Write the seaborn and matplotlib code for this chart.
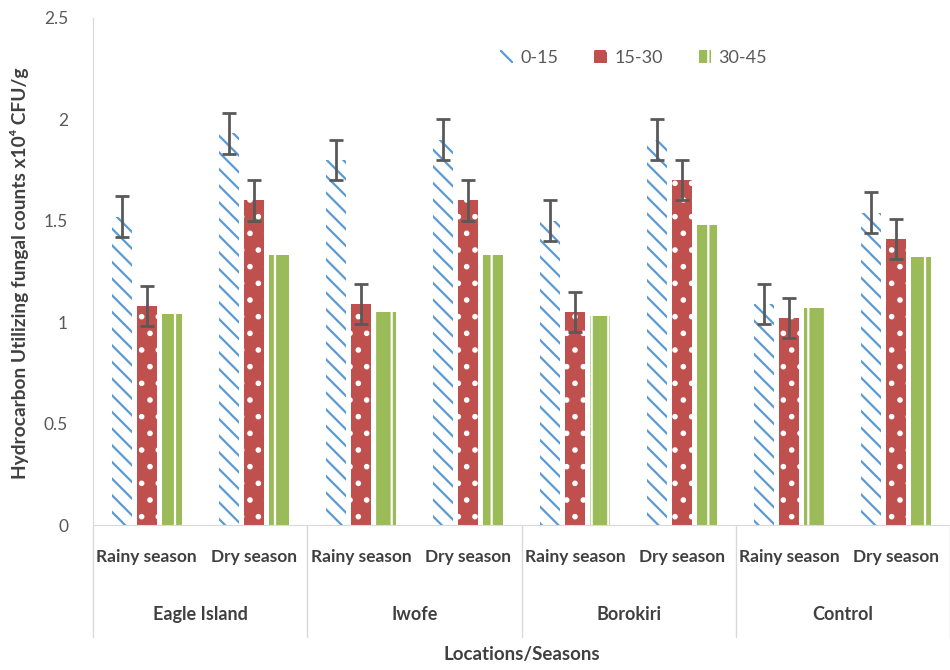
import numpy as np
import pandas as pd
import matplotlib
matplotlib.use("Agg")
import matplotlib.pyplot as plt
import seaborn as sns
from matplotlib.patches import Patch

# ---------------------------------------------------------
# data
# ---------------------------------------------------------
locations = ["Eagle Island", "Iwofe", "Borokiri", "Control"]
seasons = ["Rainy season", "Dry season"]
depths = ["0-15", "15-30", "30-45"]

vals_0_15 = [1.52, 1.93, 1.80, 1.90, 1.50, 1.90, 1.09, 1.54]
vals_15_30 = [1.08, 1.60, 1.09, 1.60, 1.05, 1.70, 1.02, 1.41]
vals_30_45 = [1.04, 1.33, 1.05, 1.33, 1.03, 1.48, 1.07, 1.32]

err_0_15 = [0.10, 0.10, 0.10, 0.10, 0.10, 0.10, 0.10, 0.10]
err_15_30 = [0.10, 0.10, 0.10, 0.10, 0.10, 0.10, 0.10, 0.10]

y_ticks = [0, 0.5, 1, 1.5, 2, 2.5]

# ---------------------------------------------------------
# table for seaborn
# ---------------------------------------------------------
keys = [f"{loc}|{s}" for loc in locations for s in seasons]
rows = []
for depth, vals in zip(depths, [vals_0_15, vals_15_30, vals_30_45]):
    for k, v in zip(keys, vals):
        rows.append({"cat": k, "depth": depth, "value": v})
df = pd.DataFrame(rows)

sns.set_style("white")
plt.rcParams["font.family"] = ["Lato", "DejaVu Sans"]
plt.rcParams["hatch.linewidth"] = 1.6

fig = plt.figure(figsize=(9.5, 6.7), dpi=100)
ax = fig.add_axes([0.098, 0.2164, 0.902, 0.757])

sns.barplot(data=df, x="cat", y="value", hue="depth", order=keys,
            hue_order=depths, width=0.7, gap=0.2, errorbar=None,
            legend=False, ax=ax)

styles = [
    dict(facecolor="white", edgecolor="#5B9BD5", hatch="\\\\"),
    dict(facecolor="#C0504D", edgecolor="white", hatch="."),
    dict(facecolor="#9BBB59", edgecolor="white", hatch="|"),
]
for cont, st in zip(ax.containers, styles):
    for p in cont.patches:
        p.set_facecolor(st["facecolor"])
        p.set_edgecolor(st["edgecolor"])
        p.set_hatch(st["hatch"])
        p.set_linewidth(0)

# error bars for the first two series
for cont, errs in zip(ax.containers[:2], [err_0_15, err_15_30]):
    xs = [p.get_x() + p.get_width() / 2 for p in cont.patches]
    hs = [p.get_height() for p in cont.patches]
    ax.errorbar(xs, hs, yerr=errs, fmt="none", ecolor="#595959",
                elinewidth=2, capsize=5, capthick=2, zorder=5)

ax.set_ylim(0, 2.5)
ax.set_xlim(-0.5, len(keys) - 0.5)
ax.set_yticks(y_ticks)
ax.set_yticklabels([f"{t:g}" for t in y_ticks], color="#595959", fontsize=12.5)
ax.tick_params(axis="y", length=0, pad=18)

ax.set_xticks(range(len(keys)))
ax.set_xticklabels([k.split("|")[1] for k in keys], color="#404040",
                   fontsize=12.5, fontweight="bold")
ax.tick_params(axis="x", length=0, pad=17)

for side in ["top", "right"]:
    ax.spines[side].set_visible(False)
ax.spines["left"].set_color("#D9D9D9")
ax.spines["bottom"].set_color("#D9D9D9")

ax.set_xlabel("")
ax.set_ylabel("")

# second level of the category axis
tr = ax.get_xaxis_transform()
for b in np.arange(-0.5, len(keys), 2):
    ax.plot([b, b], [0, -0.221], transform=tr, color="#D9D9D9",
            lw=1, clip_on=False)
for i, loc in enumerate(locations):
    ax.text(2 * i + 0.5, -0.176, loc, transform=tr, ha="center",
            va="center", fontsize=13, fontweight="bold", color="#404040")

ax.text(0.5, -0.256, "Locations/Seasons", transform=ax.transAxes,
        ha="center", va="center", fontsize=13.5, fontweight="bold",
        color="#404040")
fig.text(0.021, 0.592, "Hydrocarbon Utilizing fungal counts x10\u2074 CFU/g",
         rotation=90, ha="center", va="center", fontsize=13.8,
         fontweight="bold", color="#404040")

handles = [Patch(facecolor=st["facecolor"], edgecolor=st["edgecolor"],
                 hatch=st["hatch"], linewidth=0) for st in styles]
ax.legend(handles, depths, loc="center", bbox_to_anchor=(0.631, 0.921),
          ncol=3, frameon=False, fontsize=13, handlelength=0.7,
          handleheight=0.7, columnspacing=2.0, handletextpad=0.4,
          labelcolor="#595959")

fig.savefig("out.png", dpi=100)
